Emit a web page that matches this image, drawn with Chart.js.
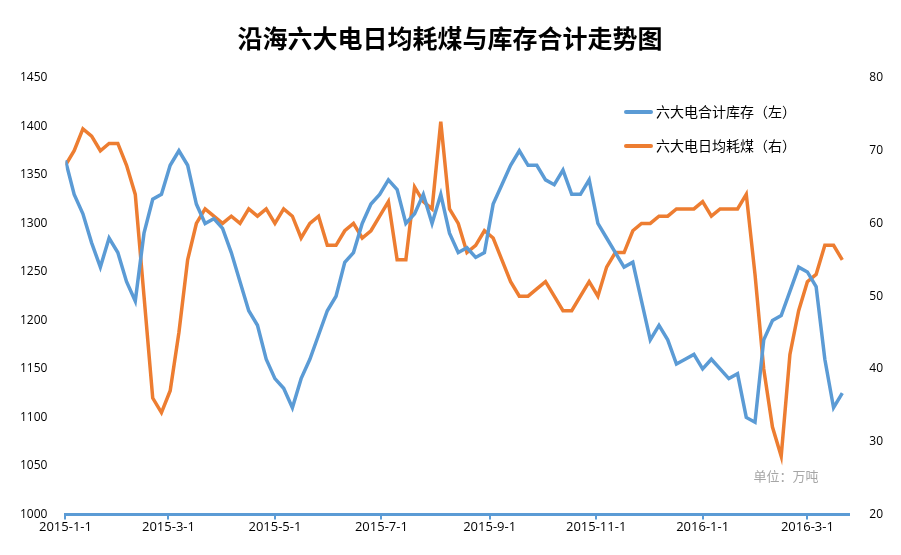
<!DOCTYPE html>
<html>
<head>
<meta charset="utf-8">
<script src="https://cdn.jsdelivr.net/npm/chart.js@4"></script>
<style>
  body { margin: 0; background: #fff; }
</style>
</head>
<body>
<canvas id="myChart" width="901" height="555"></canvas>
<script>
// days since 2015-1-1, one reading every 5 days
const stock = [1365,1330,1310,1280,1255,1285,1270,1240,1220,1290,1325,1330,1360,1375,1360,1320,1300,1305,1295,1270,
  1240,1210,1195,1160,1140,1130,1110,1140,1160,1185,1210,1225,1260,1270,1300,1320,1330,1345,1335,1300,
  1310,1330,1300,1330,1290,1270,1275,1265,1270,1320,1340,1360,1375,1360,1360,1345,1340,1355,1330,1330,
  1345,1300,1285,1270,1255,1260,1220,1180,1195,1180,1155,1160,1165,1150,1160,1150,1140,1145,1100,1095,
  1180,1200,1205,1230,1255,1250,1235,1160,1110,1125];
const burn = [68,70,73,72,70,71,71,68,64,50,36,34,37,45,55,60,62,61,60,61,
  60,62,61,62,60,62,61,58,60,61,57,57,59,60,58,59,61,63,55,55,
  65,63,62,74,62,60,56,57,59,58,55,52,50,50,51,52,50,48,48,50,
  52,50,54,56,56,59,60,60,61,61,62,62,62,63,61,62,62,62,64,53,
  40,32,28,42,48,52,53,57,57,55];
const days = stock.map((v, i) => i * 5);
const tickDays = [0, 59, 120, 181, 243, 304, 365, 425];
const tickLabels = ['2015-1-1','2015-3-1','2015-5-1','2015-7-1','2015-9-1','2015-11-1','2016-1-1','2016-3-1'];
const seriesNames = ['六大电合计库存（左）', '六大电日均耗煤（右）'];
const seriesColors = ['#5b9bd5', '#ed7d31'];

const extraText = {
  id: 'extraText',
  afterDraw(chart) {
    const c = chart.ctx;
    c.save();
    c.fillStyle = '#000';
    c.font = 'bold 25px "Noto Sans CJK SC"';
    c.textAlign = 'center';
    c.fillText('沿海六大电日均耗煤与库存合计走势图', 450, 48);
    c.fillStyle = '#a6a6a6';
    c.font = '13px "Noto Sans CJK SC"';
    c.fillText('单位：万吨', 786, 481);
    // legend
    c.textAlign = 'left';
    c.textBaseline = 'middle';
    c.font = '14px "Noto Sans CJK SC"';
    seriesNames.forEach((name, i) => {
      const y = 112 + i * 34;
      c.strokeStyle = seriesColors[i];
      c.lineWidth = 4;
      c.lineCap = 'round';
      c.beginPath(); c.moveTo(626, y); c.lineTo(651, y); c.stroke();
      c.fillStyle = '#000';
      c.fillText(name, 656, y);
    });
    c.restore();
  }
};

new Chart(document.getElementById('myChart'), {
  type: 'line',
  data: {
    datasets: [{
      label: seriesNames[0],
      data: days.map((d, i) => ({ x: d, y: stock[i] })),
      borderColor: seriesColors[0], borderWidth: 3.5, pointRadius: 0, yAxisID: 'y'
    }, {
      label: seriesNames[1],
      data: days.map((d, i) => ({ x: d, y: burn[i] })),
      borderColor: seriesColors[1], borderWidth: 3.5, pointRadius: 0, yAxisID: 'y1'
    }]
  },
  options: {
    responsive: false,
    animation: false,
    layout: { padding: { top: 78, left: 10, right: 6, bottom: 20 } },
    plugins: { legend: { display: false }, tooltip: { enabled: false } },
    scales: {
      x: {
        type: 'linear', min: 0, max: 449,
        grid: { display: true, drawOnChartArea: false, tickLength: 5, color: '#5b9bd5', lineWidth: 2 },
        border: { color: '#5b9bd5', width: 3 },
        afterBuildTicks: (axis) => { axis.ticks = tickDays.map(v => ({ value: v })); },
        ticks: { color: '#000', maxRotation: 0, autoSkip: false, padding: 0,
          font: { size: 13, family: 'Open Sans' },
          callback: (v) => tickLabels[tickDays.indexOf(v)] }
      },
      y: {
        position: 'left', min: 1000, max: 1450,
        grid: { display: false }, border: { display: false },
        afterBuildTicks: (axis) => { axis.ticks = [1000,1050,1100,1150,1200,1250,1300,1350,1400,1450].map(v => ({ value: v })); },
        ticks: { color: '#000', padding: 10, font: { size: 12, family: 'Open Sans' }, callback: (v) => String(v) }
      },
      y1: {
        position: 'right', min: 20, max: 80,
        grid: { display: false }, border: { display: false },
        afterBuildTicks: (axis) => { axis.ticks = [20,30,40,50,60,70,80].map(v => ({ value: v })); },
        ticks: { color: '#000', padding: 12, font: { size: 12, family: 'Open Sans' }, callback: (v) => String(v) }
      }
    }
  },
  plugins: [extraText]
});
</script>
</body>
</html>
